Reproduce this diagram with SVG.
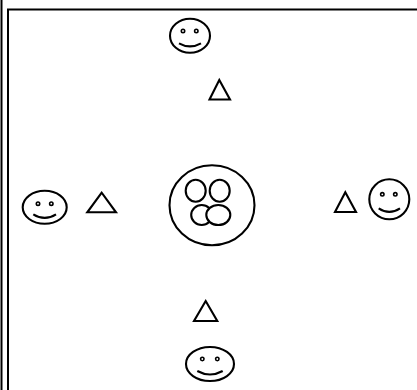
<svg xmlns="http://www.w3.org/2000/svg" width="417" height="390" viewBox="0 0 417 390">
<style>
.s{fill:none;stroke:#000;stroke-width:2.1}
.w{fill:#fff;stroke:#000;stroke-width:2.1}
.e{fill:none;stroke:#000;stroke-width:1.6}
.b{fill:none;stroke:#000;stroke-width:2}
</style>
<rect width="417" height="390" fill="#fff"/>
<g id="frame">
<path class="b" d="M1.5 0V390"/>
<path class="b" d="M8 390V9.5H417"/>
</g>
<g id="face-top">
<ellipse class="s" cx="190" cy="35.7" rx="20" ry="17"/>
<circle class="e" cx="183" cy="31" r="1.7"/><circle class="e" cx="196.3" cy="31" r="1.7"/>
<path class="s" d="M179 43.3Q190 49.5 201 43.3"/>
</g>
<g id="triangle-top"><path class="s" d="M219.3 80L209.5 99.5H230Z"/></g>
<g id="center">
<ellipse class="s" cx="212" cy="205.3" rx="42.5" ry="40"/>
<ellipse class="s" cx="195.7" cy="190.7" rx="10" ry="11"/>
<ellipse class="s" cx="219.7" cy="190.7" rx="10" ry="11"/>
<ellipse class="s" cx="201.7" cy="215" rx="10.5" ry="10"/>
<ellipse class="w" cx="218.3" cy="215" rx="12" ry="10"/>
</g>
<g id="face-left">
<ellipse class="s" cx="44.7" cy="207.3" rx="22" ry="16.5"/>
<circle class="e" cx="38" cy="203.7" r="1.7"/><circle class="e" cx="51.3" cy="203.7" r="1.7"/>
<path class="s" d="M33.3 214.3Q44.7 221.5 56 214.3"/>
</g>
<g id="triangle-left"><path class="s" d="M101.7 192.7L87.3 212.3H116Z"/></g>
<g id="face-right">
<ellipse class="s" cx="389.3" cy="199.3" rx="20" ry="20"/>
<circle class="e" cx="382.3" cy="194.3" r="1.7"/><circle class="e" cx="395.3" cy="194.3" r="1.7"/>
<path class="s" d="M378.7 208.3Q389.3 215.5 400 208.3"/>
</g>
<g id="triangle-right"><path class="s" d="M345.3 192.3L335 212H356Z"/></g>
<g id="face-bottom">
<ellipse class="s" cx="210" cy="364" rx="24" ry="17"/>
<circle class="e" cx="202.3" cy="359" r="1.7"/><circle class="e" cx="217.3" cy="359" r="1.7"/>
<path class="s" d="M197.3 371Q210 378 222.7 371"/>
</g>
<g id="triangle-bottom"><path class="s" d="M205.7 301L194 321H217.3Z"/></g>
<g id="connectors"></g>
</svg>
